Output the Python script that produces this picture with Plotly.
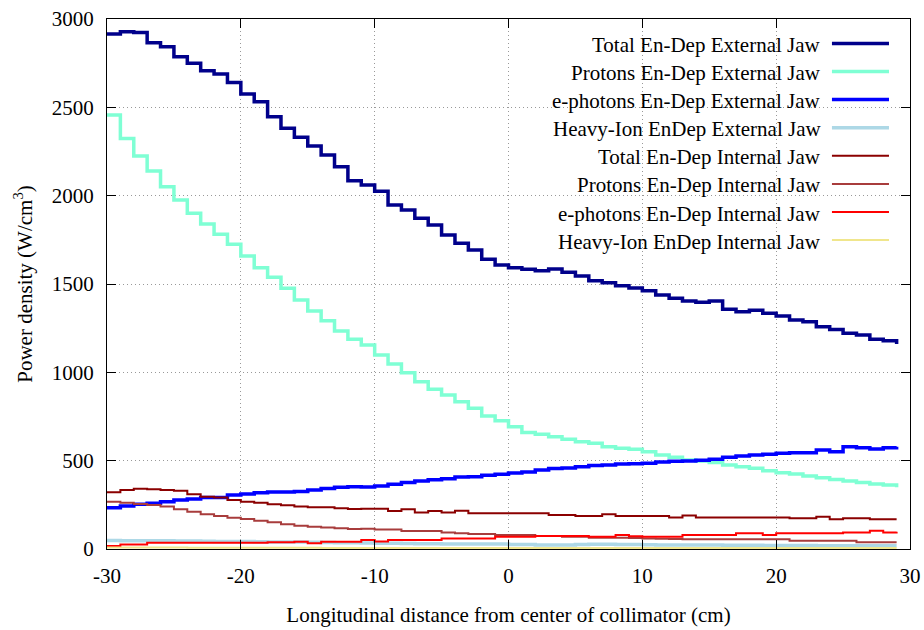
import plotly.graph_objects as go

x = list(range(-30, 30))

total_ext = [2915, 2928, 2923, 2866, 2843, 2786, 2749, 2707, 2688, 2641,
             2575, 2532, 2447, 2381, 2330, 2281, 2230, 2164, 2085, 2060,
             2025, 1947, 1919, 1872, 1834, 1777, 1730, 1692, 1640, 1607,
             1592, 1583, 1575, 1585, 1566, 1545, 1519, 1507, 1490, 1478,
             1462, 1438, 1419, 1404, 1396, 1404, 1357, 1343, 1351, 1334,
             1319, 1296, 1287, 1258, 1243, 1221, 1211, 1187, 1179, 1160]
protons_ext = [2456, 2324, 2224, 2139, 2051, 1976, 1900, 1840, 1781, 1725,
               1658, 1592, 1538, 1476, 1409, 1347, 1292, 1234, 1187, 1155,
               1098, 1047, 998, 947, 904, 872, 834, 796, 753, 726,
               692, 660, 649, 636, 621, 607, 598, 579, 570, 564,
               551, 532, 519, 504, 498, 489, 475, 466, 457, 443,
               432, 424, 413, 404, 394, 385, 377, 368, 362, 349]
ephot_ext = [234, 243, 253, 259, 268, 277, 283, 291, 292, 306,
             311, 319, 323, 323, 326, 334, 343, 349, 353, 351,
             357, 366, 377, 385, 392, 398, 408, 409, 417, 423,
             430, 436, 447, 455, 458, 466, 472, 475, 481, 483,
             485, 492, 496, 498, 502, 508, 519, 526, 532, 536,
             542, 545, 545, 560, 551, 579, 573, 566, 573, 579]
heavy_ext = [48, 47, 47, 46, 46, 45, 45, 44, 43, 43,
             42, 41, 40, 40, 39, 38, 37, 36, 35, 34,
             33, 32, 31, 30, 30, 29, 29, 28, 28, 28,
             26, 25, 23, 22, 22, 26, 27, 27, 26, 25,
             24, 23, 23, 22, 22, 22, 21, 21, 21, 20,
             20, 20, 20, 19, 19, 19, 19, 18, 18, 18]
total_int = [321, 334, 341, 338, 334, 330, 310, 296, 291, 277,
             268, 262, 253, 247, 240, 236, 236, 230, 226, 228,
             228, 215, 225, 206, 215, 206, 217, 202, 202, 202,
             202, 202, 202, 192, 192, 187, 187, 196, 187, 187,
             187, 187, 179, 189, 179, 179, 179, 179, 179, 179,
             179, 174, 174, 183, 168, 174, 174, 168, 168, 168]
protons_int = [268, 262, 255, 249, 240, 225, 211, 196, 187, 177,
               170, 160, 151, 140, 132, 126, 121, 117, 113, 115,
               111, 111, 102, 102, 102, 94, 89, 85, 85, 79,
               79, 79, 74, 74, 70, 70, 64, 64, 64, 62,
               60, 58, 57, 55, 55, 55, 55, 55, 55, 55,
               55, 47, 47, 47, 47, 47, 38, 38, 38, 38]
ephot_int = [17, 26, 26, 36, 36, 36, 36, 36, 36, 36,
             36, 36, 38, 38, 41, 32, 41, 41, 41, 51,
             43, 51, 51, 51, 51, 60, 60, 60, 60, 70,
             70, 70, 74, 74, 74, 74, 70, 70, 79, 72,
             70, 70, 70, 79, 79, 79, 79, 89, 89, 79,
             89, 89, 89, 89, 89, 94, 94, 104, 94, 97]
heavy_int = [8, 8, 8, 8, 8, 8, 7, 7, 7, 7,
             7, 7, 7, 7, 7, 7, 6, 6, 6, 6,
             6, 6, 6, 6, 6, 6, 6, 6, 6, 6,
             6, 6, 5, 5, 5, 5, 5, 5, 5, 5,
             5, 5, 5, 5, 5, 5, 5, 5, 5, 5,
             5, 5, 5, 5, 5, 5, 5, 5, 5, 5]

x_ticks = [-30, -20, -10, 0, 10, 20, 30]
x_ticklabels = ["-30", "-20", "-10", "0", "10", "20", "30"]
y_ticks = [0, 500, 1000, 1500, 2000, 2500, 3000]

names = ["Total En-Dep External Jaw", "Protons En-Dep External Jaw",
         "e-photons En-Dep External Jaw", "Heavy-Ion EnDep External Jaw",
         "Total En-Dep Internal Jaw", "Protons En-Dep Internal Jaw",
         "e-photons En-Dep Internal Jaw", "Heavy-Ion EnDep Internal Jaw"]
series = [total_ext, protons_ext, ephot_ext, heavy_ext,
          total_int, protons_int, ephot_int, heavy_int]
colors = ["#00008b", "#7fffd4", "#0000ff", "#add8e6",
          "#8b0000", "#a83c3c", "#ff0000", "#f0e68c"]
widths = [3.5, 3.5, 3.5, 3.5, 2, 2, 2, 2]

FONT = "Liberation Serif"
FS = 21
fig = go.Figure()
for nm, ys, c, w in zip(names, series, colors, widths):
    fig.add_trace(go.Scatter(x=x, y=ys, mode="lines", name=nm,
                             line=dict(color=c, width=w, shape="hv"),
                             showlegend=False))

x0_px, x1_px = 107.5, 910.0
y0_px, y1_px = 19.0, 549.0
def px2x(p):
    return (p - x0_px) / (x1_px - x0_px)
def py2y(p):
    return (y1_px - p) / (y1_px - y0_px)
for i, (nm, c, w) in enumerate(zip(names, colors, widths)):
    yc = 43.4 + 28.1 * i
    fig.add_annotation(xref="paper", yref="paper", x=px2x(823), y=py2y(yc + 1.5),
                       text=nm, showarrow=False, xanchor="right", yanchor="middle",
                       font=dict(family=FONT, size=FS, color="black"))
    fig.add_shape(type="line", xref="paper", yref="paper",
                  x0=px2x(832), x1=px2x(889), y0=py2y(yc), y1=py2y(yc),
                  line=dict(color=c, width=w))

axis_common = dict(showline=True, linecolor="black", linewidth=1, mirror="ticks",
                   ticks="inside", ticklen=9, tickcolor="black", automargin=False,
                   showgrid=True, gridcolor="#999999", griddash="1px,3px", gridwidth=1,
                   zeroline=False, tickfont=dict(family=FONT, size=FS, color="black"))
fig.update_xaxes(range=[-30, 30], tickvals=x_ticks, ticktext=x_ticklabels,
                 ticklabelstandoff=8,
                 title=dict(text="Longitudinal distance from center of collimator (cm)",
                            font=dict(family=FONT, size=FS, color="black"), standoff=20),
                 **axis_common)
fig.update_yaxes(range=[0, 3000], tickvals=y_ticks, ticklabelstandoff=8,
                 title=dict(text="Power density (W/cm<sup>3</sup>)",
                            font=dict(family=FONT, size=FS, color="black"), standoff=13),
                 **axis_common)
fig.update_layout(width=924, height=630, plot_bgcolor="white", paper_bgcolor="white",
                  margin=dict(l=107, r=14, t=19, b=81, autoexpand=False))
fig.write_html("out.html")
